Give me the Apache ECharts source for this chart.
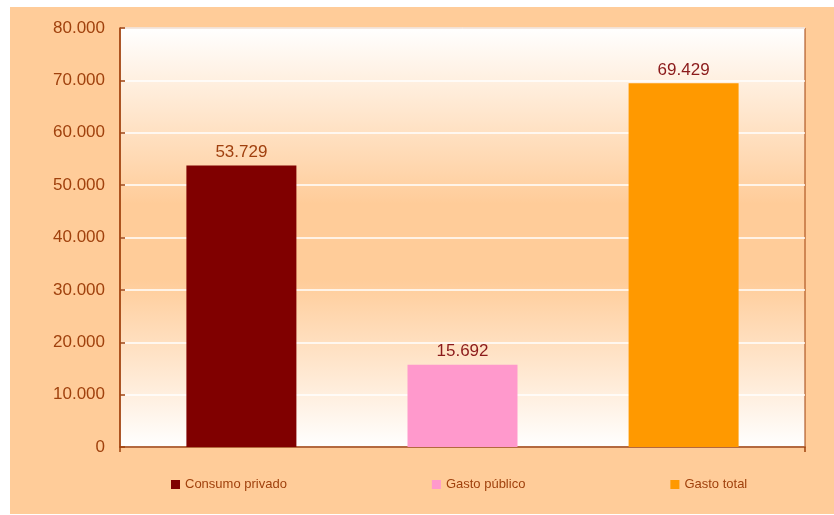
<!DOCTYPE html>
<html lang="es">
<head>
    <meta charset="UTF-8">
    <title>Gasto</title>
    <script src="https://cdn.jsdelivr.net/npm/echarts@6/dist/echarts.min.js"></script>
    <style>
        html, body { margin: 0; padding: 0; background: #fff; }
        #chart { width: 834px; height: 515px; }
    </style>
</head>
<body>
<div id="chart"></div>
<script>
    // datos
    var seriesNames = ['Consumo privado', 'Gasto público', 'Gasto total'];
    var seriesValues = [53729, 15692, 69429];
    var seriesColors = ['#800000', '#FF99CC', '#FF9900'];
    var labelColors = ['#A0400F', '#8B1A1A', '#8B1A1A'];
    var yTicks = [0, 10000, 20000, 30000, 40000, 50000, 60000, 70000, 80000];

    var rust = '#A0410D';

    function fmt(v) {
        return String(v).replace(/\B(?=(\d{3})+(?!\d))/g, '.');
    }

    var chart = echarts.init(document.getElementById('chart'));

    var series = [];
    for (var i = 0; i < seriesNames.length; i++) {
        series.push({
            name: seriesNames[i],
            type: 'bar',
            data: [seriesValues[i]],
            barWidth: 110,
            barGap: '101%',
            itemStyle: { color: seriesColors[i] },
            label: {
                show: true,
                position: 'top',
                distance: 5,
                color: labelColors[i],
                fontFamily: 'Liberation Sans, Arial, sans-serif',
                fontSize: 17,
                formatter: function (p) { return fmt(p.value); }
            }
        });
    }

    var option = {
        animation: false,
        backgroundColor: '#fff',
        graphic: [{
            type: 'rect',
            z: -10,
            silent: true,
            shape: { x: 10, y: 7, width: 824, height: 507 },
            style: { fill: '#FFCC99' }
        }],
        grid: {
            left: 120, top: 28, right: 29, bottom: 68,
            show: true,
            borderColor: rust,
            borderWidth: 1,
            backgroundColor: {
                type: 'linear', x: 0, y: 0, x2: 0, y2: 1,
                colorStops: [
                    { offset: 0, color: '#FFFFFF' },
                    { offset: 0.42, color: '#FFCC99' },
                    { offset: 0.6, color: '#FFCC99' },
                    { offset: 1, color: '#FFFFFF' }
                ]
            }
        },
        legend: {
            bottom: 19,
            left: 166,
            icon: 'rect',
            itemWidth: 9,
            itemHeight: 9,
            itemGap: 145,
            selectedMode: false,
            textStyle: {
                color: rust,
                fontFamily: 'Liberation Sans, Arial, sans-serif',
                fontSize: 13
            },
            data: seriesNames
        },
        xAxis: {
            type: 'category',
            data: [''],
            axisLine: { lineStyle: { color: rust, width: 1.5 } },
            axisTick: { show: true, length: 5, lineStyle: { color: rust, width: 1.5 } },
            axisLabel: { show: false }
        },
        yAxis: {
            type: 'value',
            min: yTicks[0],
            max: yTicks[yTicks.length - 1],
            interval: yTicks[1] - yTicks[0],
            axisLine: { show: true, lineStyle: { color: rust, width: 1.5 } },
            axisTick: { show: true, inside: true, length: 5, lineStyle: { color: rust, width: 1.5 } },
            axisLabel: {
                color: rust,
                fontFamily: 'Liberation Sans, Arial, sans-serif',
                fontSize: 17,
                margin: 15,
                formatter: function (v) { return fmt(v); }
            },
            splitLine: { lineStyle: { color: '#FFFFFF', width: 1.5 } }
        },
        series: series
    };

    chart.setOption(option, true);
</script>
</body>
</html>
